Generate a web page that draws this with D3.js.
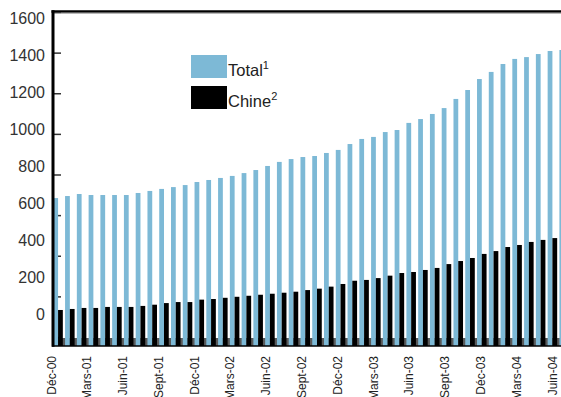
<!DOCTYPE html>
<html>
<head>
<meta charset="utf-8">
<script src="https://cdn.jsdelivr.net/npm/d3@7"></script>
<style>
  body { margin: 0; background: #fff; }
  text { font-family: "Liberation Sans", Arial, sans-serif; }
</style>
</head>
<body>
<div id="chart"></div>
<script>
// months, Dec-00 .. Jul-04 (last pair is cut by the right edge)
const months = [
  'Déc-00',
  'Janv-01', 'Févr-01', 'Mars-01', 'Avr-01', 'Mai-01', 'Juin-01',
  'Juil-01', 'Août-01', 'Sept-01', 'Oct-01', 'Nov-01', 'Déc-01',
  'Janv-02', 'Févr-02', 'Mars-02', 'Avr-02', 'Mai-02', 'Juin-02',
  'Juil-02', 'Août-02', 'Sept-02', 'Oct-02', 'Nov-02', 'Déc-02',
  'Janv-03', 'Févr-03', 'Mars-03', 'Avr-03', 'Mai-03', 'Juin-03',
  'Juil-03', 'Août-03', 'Sept-03', 'Oct-03', 'Nov-03', 'Déc-03',
  'Janv-04', 'Févr-04', 'Mars-04', 'Avr-04', 'Mai-04', 'Juin-04',
  'Juil-04'
];

const totalValues = [
  684, 694, 704, 699, 699, 699, 699, 709, 719, 729, 738, 748,
  763, 773, 783, 793, 807, 822, 842, 862, 876, 886, 891, 906,
  921, 950, 975, 985, 1009, 1019, 1054, 1073, 1098, 1127, 1172, 1216,
  1270, 1305, 1344, 1369, 1378, 1393, 1408, 1413
];

const chineValues = [
  133, 138, 143, 143, 148, 148, 148, 153, 159, 167, 172, 172,
  184, 187, 193, 198, 203, 208, 213, 218, 223, 231, 238, 248,
  261, 277, 281, 290, 302, 315, 320, 330, 340, 359, 374, 389,
  409, 423, 443, 453, 468, 478, 487, 492
];

const seriesNames = ['Total', 'Chine'];
const seriesSup = ['1', '2'];
const seriesColors = ['#7db9d6', '#000000'];

const yTicks = [0, 200, 400, 600, 800, 1000, 1200, 1400, 1600];
const xTickLabels = [
  'Déc-00', 'Mars-01', 'Juin-01', 'Sept-01', 'Déc-01', 'Mars-02', 'Juin-02',
  'Sept-02', 'Déc-02', 'Mars-03', 'Juin-03', 'Sept-03', 'Déc-03', 'Mars-04', 'Juin-04'
];

// -------------------------------------------------------------------------
// layout

const width = 561;
const height = 397;
const plotLeft = 53;
const plotTop = 12;
const plotBottom = 346;

const svg = d3.select('#chart')
  .append('svg')
  .attr('width', width)
  .attr('height', height);

const y = d3.scaleLinear()
  .domain([0, 1600])
  .range([337, plotTop]);

// the printed labels do not sit exactly on the ticks in the original
const yLabel = d3.scaleLinear()
  .domain([0, 1600])
  .range([314, 18]);

const step = 11.77;
const pad = 0.19;
const x = d3.scaleBand()
  .domain(months)
  .range([53.3, 53.3 + step * (months.length - pad)])
  .paddingInner(pad)
  .paddingOuter(0);

const xSub = d3.scaleBand()
  .domain(seriesNames)
  .range([0, x.bandwidth()]);

const xLabel = d3.scalePoint()
  .domain(months.slice(0, 43))
  .range([51, 552]);

// grey strip under the zero line, seen between bars
svg.append('rect')
  .attr('x', plotLeft)
  .attr('y', y(0) + 1)
  .attr('width', width - plotLeft)
  .attr('height', plotBottom - y(0) - 1)
  .attr('fill', '#5a5a5a');

// tick marks (inside, right of axis)
const tickAxis = svg.append('g')
  .attr('transform', `translate(${plotLeft},0)`)
  .call(d3.axisRight(y).tickValues(yTicks).tickSize(8).tickFormat(''));
tickAxis.select('.domain').remove();
tickAxis.selectAll('line').attr('stroke', '#333').attr('stroke-width', 1.5);

// bars
const rows = months.map((m, i) => ({month: m, values: [totalValues[i], chineValues[i]]}));

const groups = svg.selectAll('.month')
  .data(rows)
  .enter()
  .append('g')
  .attr('class', 'month')
  .attr('transform', (d) => `translate(${x(d.month)},0)`);

groups.selectAll('rect')
  .data((d) => d.values.map((v, k) => ({name: seriesNames[k], value: v, color: seriesColors[k]})))
  .enter()
  .append('rect')
  .attr('x', (d) => xSub(d.name))
  .attr('width', xSub.bandwidth())
  .attr('y', (d) => y(d.value))
  .attr('height', (d) => plotBottom - y(d.value))
  .attr('fill', (d) => d.color);

// frame lines
svg.append('line')
  .attr('x1', plotLeft - 1).attr('x2', width)
  .attr('y1', plotBottom).attr('y2', plotBottom)
  .attr('stroke', '#000').attr('stroke-width', 1.5);

svg.append('line')
  .attr('x1', plotLeft - 1.5).attr('x2', width)
  .attr('y1', plotTop - 0.5).attr('y2', plotTop - 0.5)
  .attr('stroke', '#000').attr('stroke-width', 2.5);
svg.append('line')
  .attr('x1', plotLeft).attr('x2', width)
  .attr('y1', plotTop + 1.2).attr('y2', plotTop + 1.2)
  .attr('stroke', '#999').attr('stroke-width', 1);

svg.append('line')
  .attr('x1', plotLeft).attr('x2', plotLeft)
  .attr('y1', plotTop - 1.8).attr('y2', plotBottom + 0.8)
  .attr('stroke', '#000').attr('stroke-width', 3);

// y labels
const labelAxis = svg.append('g')
  .attr('transform', 'translate(45,0)')
  .call(d3.axisLeft(yLabel).tickValues(yTicks).tickSize(0).tickPadding(0).tickFormat(d3.format('d')));
labelAxis.select('.domain').remove();
labelAxis.selectAll('text')
  .attr('font-size', 16)
  .attr('font-family', '"Liberation Sans", Arial, sans-serif')
  .attr('fill', '#333');

// x labels, rotated (the longer ones run off the bottom, as in the original)
svg.selectAll('.xlab')
  .data(xTickLabels)
  .enter()
  .append('text')
  .attr('class', 'xlab')
  .attr('transform', (d) => `translate(${xLabel(d) + 4.5},356) rotate(-90)`)
  .attr('text-anchor', 'end')
  .attr('font-size', 12)
  .attr('fill', '#222')
  .text((d) => d);

// legend
const legend = svg.append('g')
  .attr('transform', 'translate(191,55)');

const items = legend.selectAll('g')
  .data(seriesNames)
  .enter()
  .append('g')
  .attr('transform', (d, i) => `translate(0,${i * 31})`);

items.append('rect')
  .attr('width', 36)
  .attr('height', 23)
  .attr('fill', (d, i) => seriesColors[i]);

const labels = items.append('text')
  .attr('x', 37)
  .attr('y', 21)
  .attr('font-size', 16.5)
  .attr('fill', '#222');
labels.append('tspan').text((d) => d);
labels.append('tspan')
  .attr('font-size', 11)
  .attr('dy', -7)
  .text((d, i) => seriesSup[i]);
</script>
</body>
</html>
